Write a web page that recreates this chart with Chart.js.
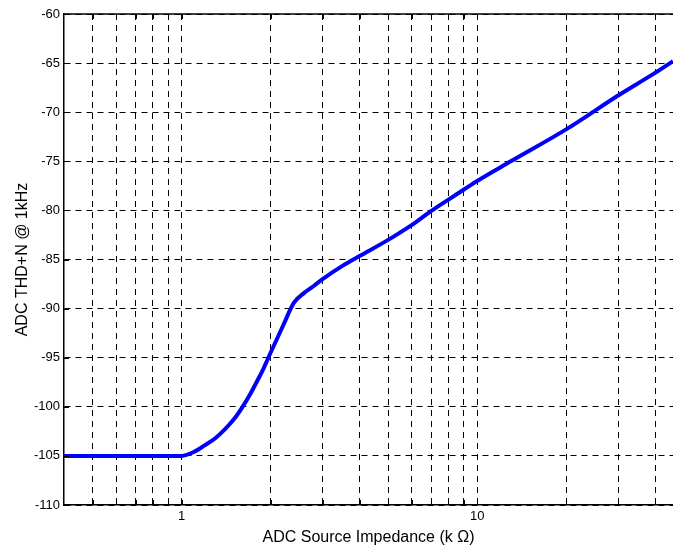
<!DOCTYPE html>
<html><head><meta charset="utf-8">
<script src="https://cdn.jsdelivr.net/npm/chart.js@4.4.1/dist/chart.umd.min.js"></script>
<style>html,body{margin:0;padding:0;background:#fff;overflow:hidden}#wrap{width:673px;height:548px}</style>
</head><body><div id="wrap"><canvas id="c" width="673" height="548"></canvas></div>
<script>
// Data
const impedanceK = [0.4, 0.5, 0.6, 0.7, 0.8, 0.9, 1.0, 1.1, 1.2, 1.3, 1.4, 1.5, 1.6, 1.7, 1.8, 1.9, 2.0, 2.2, 2.4, 2.6, 2.8, 3.0, 3.5, 4, 5, 6, 7, 8, 9, 10, 13, 20, 30, 40, 46];
const thdN = [-105, -105, -105, -105, -105, -105, -105, -104.6, -103.9, -103.2, -102.3, -101.3, -100.1, -98.8, -97.4, -96.0, -94.5, -91.8, -89.4, -88.4, -87.7, -87.0, -85.65, -84.65, -83.0, -81.5, -80.05, -78.9, -77.9, -77.0, -75.0, -71.75, -68.3, -66.0, -64.8];
const xTickValues = [0.5, 0.6, 0.7, 0.8, 0.9, 1, 2, 3, 4, 5, 6, 7, 8, 9, 10, 20, 30, 40];
const xTickLabels = ['1', '10'];
const xLabelValues = [1, 10];
const yTickValues = [-110, -105, -100, -95, -90, -85, -80, -75, -70, -65, -60];
const xMin = 0.4, xMax = 46;
const yMin = -110, yMax = -60;

const FONT = "'Liberation Sans', Arial, sans-serif";

const framePlugin = {
  id: 'frame',
  afterDraw(chart) {
    const {ctx, chartArea: a, scales} = chart;
    ctx.save();
    ctx.strokeStyle = '#000';
    ctx.lineWidth = 1.5;
    ctx.beginPath();
    ctx.moveTo(a.left, a.top); ctx.lineTo(a.right, a.top);
    ctx.stroke();
    ctx.lineWidth = 1;
    ctx.beginPath();
    xTickValues.forEach(v => {
      const px = Math.round(scales.x.getPixelForValue(v)) + 0.5;
      ctx.moveTo(px, a.bottom); ctx.lineTo(px, a.bottom - 5);
      ctx.moveTo(px, a.top); ctx.lineTo(px, a.top + 5);
    });
    yTickValues.forEach(v => {
      const py = Math.round(scales.y.getPixelForValue(v)) + 0.5;
      ctx.moveTo(a.left, py); ctx.lineTo(a.left + 5, py);
    });
    ctx.stroke();
    ctx.restore();
  }
};

new Chart(document.getElementById('c'), {
  type: 'line',
  data: {
    datasets: [{
      data: impedanceK.map((x, i) => ({x: x, y: thdN[i]})),
      borderColor: '#0000ff',
      borderWidth: 4,
      pointRadius: 0,
      fill: false,
      cubicInterpolationMode: 'monotone'
    }]
  },
  options: {
    responsive: false,
    animation: false,
    layout: {padding: {top: 14, right: 0, left: 0, bottom: 0}},
    plugins: {legend: {display: false}, tooltip: {enabled: false}},
    scales: {
      x: {
        type: 'logarithmic',
        min: xMin, max: xMax,
        afterBuildTicks: s => { s.ticks = xTickValues.map(v => ({value: v})); },
        afterFit: s => { s.height = 43; },
        ticks: {
          autoSkip: false, maxRotation: 0, padding: 4, color: '#000',
          font: {family: FONT, size: 13},
          callback: v => { const i = xLabelValues.findIndex(t => Math.abs(t - v) < 1e-9); return i >= 0 ? xTickLabels[i] : ''; }
        },
        grid: {color: '#000', lineWidth: 1, drawTicks: false},
        border: {display: true, color: '#000', width: 1.5, dash: [6, 5]},
        title: {display: true, text: 'ADC Source Impedance (k \u03A9)', color: '#000', font: {family: FONT, size: 16}, padding: {top: 0, bottom: 1}}
      },
      y: {
        min: yMin, max: yMax,
        afterBuildTicks: s => { s.ticks = yTickValues.map(v => ({value: v})); },
        afterFit: s => { s.width = 64; },
        ticks: {padding: 4, color: '#000', font: {family: FONT, size: 13}},
        grid: {color: '#000', lineWidth: 1, drawTicks: false},
        border: {display: true, color: '#000', width: 1.5, dash: [6, 5]},
        title: {display: true, text: 'ADC THD+N @ 1kHz', color: '#000', font: {family: FONT, size: 16}, padding: {top: 13, bottom: 12}}
      }
    }
  },
  plugins: [framePlugin]
});
</script>
</body></html>
